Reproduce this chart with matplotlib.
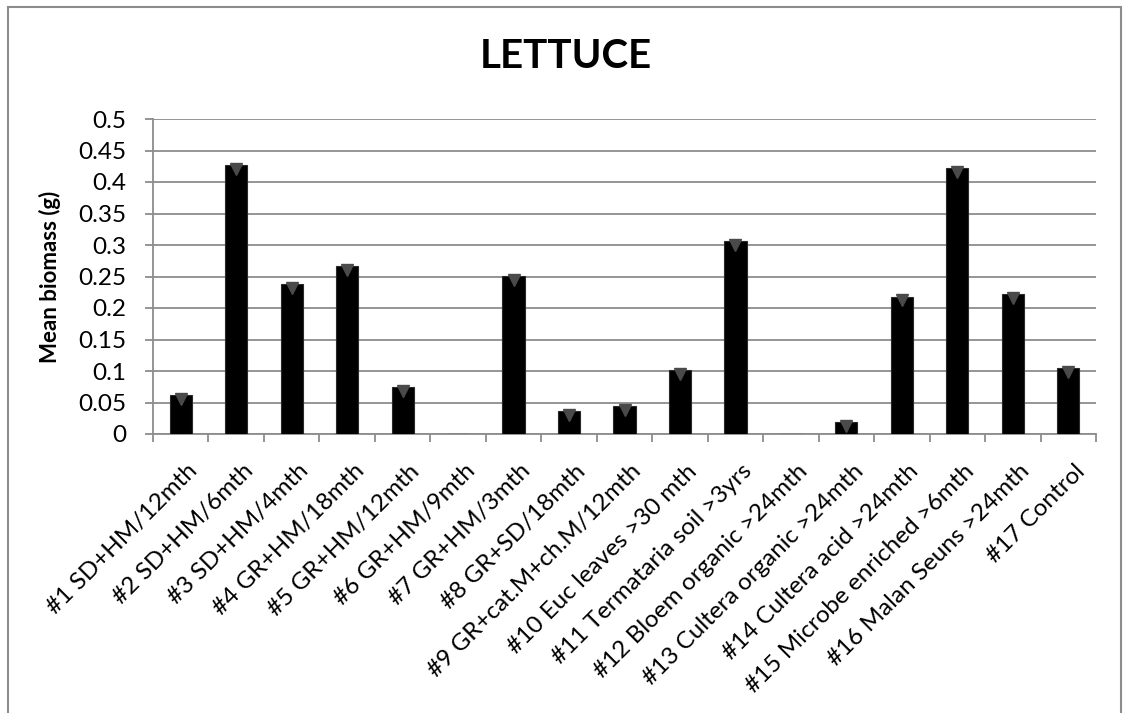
import matplotlib
matplotlib.use("Agg")
import matplotlib.pyplot as plt
from matplotlib.patches import Rectangle
from matplotlib.transforms import ScaledTranslation
import numpy as np

plt.rcParams["font.family"] = ["Lato", "DejaVu Sans"]

labels = [
    "#1 SD+HM/12mth", "#2 SD+HM/6mth", "#3 SD+HM/4mth", "#4 GR+HM/18mth",
    "#5 GR+HM/12mth", "#6 GR+HM/9mth", "#7 GR+HM/3mth", "#8 GR+SD/18mth",
    "#9 GR+cat.M+ch.M/12mth", "#10 Euc leaves >30 mth", "#11 Termataria soil >3yrs",
    "#12 Bloem organic >24mth", "#13 Cultera organic >24mth", "#14 Cultera acid >24mth",
    "#15 Microbe enriched >6mth", "#16 Malan Seuns >24mth", "#17 Control",
]
biomass = [0.062, 0.427, 0.238, 0.266, 0.074, 0.0, 0.251, 0.036,
           0.044, 0.102, 0.306, 0.0, 0.019, 0.218, 0.422, 0.222, 0.105]
yticks = [0, 0.05, 0.1, 0.15, 0.2, 0.25, 0.3, 0.35, 0.4, 0.45, 0.5]
ytick_labels = ["0", "0.05", "0.1", "0.15", "0.2", "0.25", "0.3", "0.35", "0.4", "0.45", "0.5"]

grey = "#8c8c8c"

fig = plt.figure(figsize=(11.26, 7.13), dpi=100)
fig.patches.append(Rectangle((8 / 1126, -0.05), 1113 / 1126, 1.05 - 7 / 713,
                             transform=fig.transFigure, fill=False,
                             edgecolor=grey, linewidth=1.5))

ax = fig.add_axes([153 / 1126, 1 - 434 / 713, 943 / 1126, 315 / 713])
x = np.arange(len(labels))
ax.bar(x, biomass, width=0.4, color="black", edgecolor="#2a2a2a", linewidth=0.8, zorder=3)
# bevel highlight on the top of each bar
xs = [i for i, v in enumerate(biomass) if v > 0]
tops = [biomass[i] - 0.006 for i in xs]
ax.plot(xs, tops, linestyle="none", marker="v", markersize=9,
        color="#4a4a4a", zorder=4)

ax.set_xlim(-0.5, len(labels) - 0.5)
ax.set_ylim(0, 0.5)
ax.set_yticks(yticks)
ax.set_yticklabels(ytick_labels, fontsize=17.5)
ax.yaxis.grid(True, color=grey, linewidth=1.3, zorder=0)
ax.set_axisbelow(True)

ax.set_xticks(x)
ax.set_xticklabels(labels, rotation=45, ha="right", va="top",
                   rotation_mode="anchor", fontsize=17.5)
ax.tick_params(axis="x", length=0, pad=19)
shift = ScaledTranslation(6 / 100, 0, fig.dpi_scale_trans)
for lab in ax.get_xticklabels():
    lab.set_transform(lab.get_transform() + shift)
ax.set_xticks(np.arange(-0.5, len(labels)), minor=True)
ax.tick_params(axis="x", which="minor", length=6, color=grey, width=1.3)
ax.tick_params(axis="y", length=6, color=grey, width=1.3, pad=13)

for side in ["top", "right"]:
    ax.spines[side].set_visible(False)
for side in ["left", "bottom"]:
    ax.spines[side].set_color(grey)
    ax.spines[side].set_linewidth(1.3)

ax.set_ylabel("Mean biomass (g)", fontsize=16, fontweight="bold")
ax.yaxis.set_label_coords((61 - 153) / 943, 0.5)
fig.text(566 / 1126, 1 - 57 / 713, "LETTUCE", fontsize=29, fontweight="bold",
         ha="center", va="center")

fig.savefig("out.png", dpi=100)
